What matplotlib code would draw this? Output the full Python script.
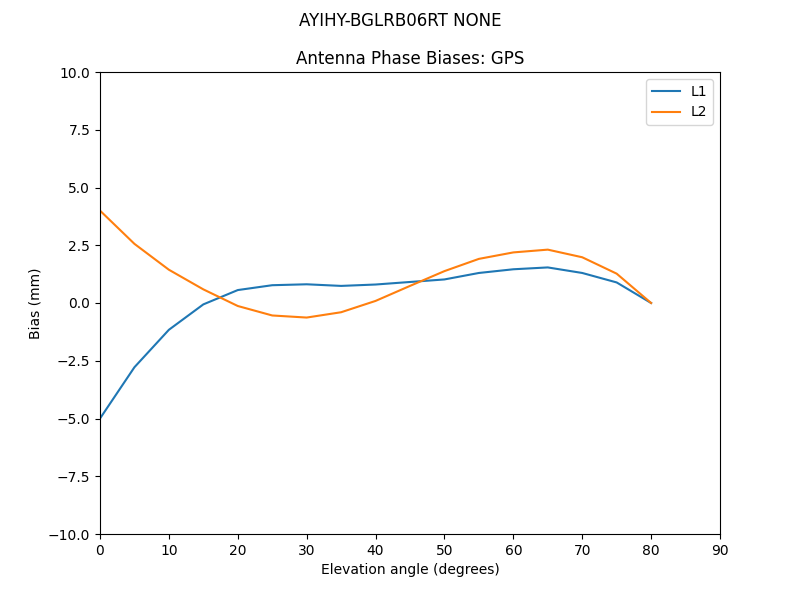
import matplotlib
matplotlib.use("Agg")
import matplotlib.pyplot as plt

elev = [0, 5, 10, 15, 20, 25, 30, 35, 40, 45, 50, 55, 60, 65, 70, 75, 80]
l1 = [-5.0, -2.78, -1.16, -0.06, 0.56, 0.77, 0.81, 0.74, 0.80, 0.91, 1.02,
      1.30, 1.46, 1.54, 1.30, 0.89, 0.0]
l2 = [4.0, 2.56, 1.44, 0.59, -0.13, -0.54, -0.63, -0.40, 0.09, 0.74, 1.38,
      1.91, 2.19, 2.31, 1.98, 1.27, 0.0]

fig, ax = plt.subplots(figsize=(8, 6), dpi=100)
fig.suptitle('AYIHY-BGLRB06RT NONE')
ax.set_title('Antenna Phase Biases: GPS')

ax.plot(elev, l1, label='L1')
ax.plot(elev, l2, label='L2')

ax.set_xlim(0, 90)
ax.set_ylim(-10, 10)
ax.set_xlabel('Elevation angle (degrees)')
ax.set_ylabel('Bias (mm)')
ax.legend(loc='upper right')

fig.savefig('out.png')
